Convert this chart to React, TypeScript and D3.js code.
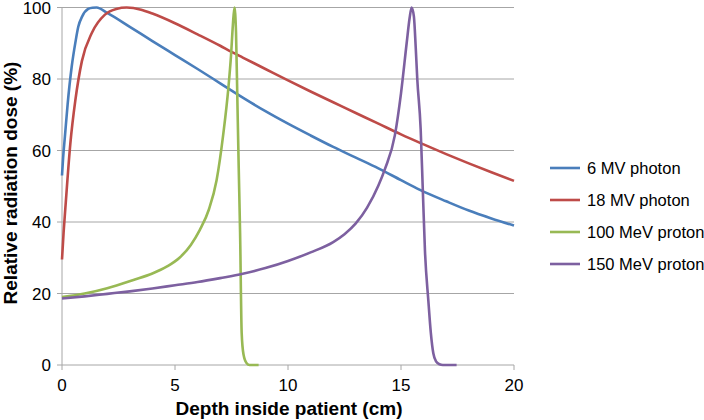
import React from "react";
import * as d3 from "d3";

const xTicks = [0, 5, 10, 15, 20];
const yTicks = [0, 20, 40, 60, 80, 100];

const seriesNames = ["6 MV photon", "18 MV photon", "100 MeV proton", "150 MeV proton"];
const seriesColors = ["#4A7EBB", "#BE4B48", "#98B954", "#7D60A0"];

const mv6Depth = [0, 0.05, 0.13, 0.25, 0.43, 0.6, 0.72, 0.9, 1.16, 1.35, 1.53, 2, 3, 4, 5, 6, 7, 8, 9, 10, 11, 12, 13, 14, 15, 15.84, 17, 18, 19, 20];
const mv6Dose = [53, 58, 64, 73, 83.5, 90.5, 94.6, 97.6, 99.6, 99.95, 100, 98.5, 94.6, 90.6, 86.7, 82.8, 78.8, 74.8, 71, 67.5, 64.2, 61, 58, 55, 51.7, 49, 45.8, 43.2, 41, 39];

const mv18Depth = [0, 0.07, 0.15, 0.37, 0.59, 0.88, 1.33, 1.9, 2.4, 2.86, 3.5, 4, 5, 6, 7, 7.5, 8, 9, 10, 11, 12, 13, 14, 15, 16, 17, 18, 19, 20];
const mv18Dose = [29.5, 37, 44, 62, 74, 85, 93, 98, 99.6, 100, 99.4, 98.3, 95.6, 92.5, 89.3, 87.6, 86, 82.8, 79.6, 76.5, 73.5, 70.5, 67.5, 64.5, 61.7, 59, 56.4, 53.9, 51.5];

const p100Depth = [0, 1, 2, 3.16, 4, 4.63, 5.2, 5.7, 6.1, 6.5, 6.84, 7.14, 7.36, 7.48, 7.56, 7.63, 7.7, 7.76, 7.82, 7.88, 7.95, 8.03, 8.17, 8.3, 8.7];
const p100Dose = [19, 20, 21.5, 23.8, 25.6, 27.5, 30, 33.6, 37.8, 43.5, 51.7, 64.8, 77.4, 86.7, 95, 100, 93, 74, 55, 37, 9, 3, 0.5, 0, 0];

const p150Depth = [0, 1, 2, 3, 4, 5, 6, 7, 8, 9, 10, 11, 12, 12.5, 13, 13.5, 14, 14.3, 14.73, 15, 15.25, 15.38, 15.47, 15.57, 15.65, 15.72, 15.87, 15.97, 16.06, 16.21, 16.32, 16.43, 16.55, 16.7, 16.85, 17.46];
const p150Dose = [18.6, 19.2, 19.9, 20.6, 21.4, 22.3, 23.2, 24.3, 25.5, 27.1, 29.1, 31.5, 34.4, 36.6, 39.6, 44, 50.2, 55, 64.3, 76, 90, 97, 100, 97.5, 89, 80, 66, 48, 32, 18, 9, 3.3, 1, 0.2, 0, 0];

const seriesDepths = [mv6Depth, mv18Depth, p100Depth, p150Depth];
const seriesDoses = [mv6Dose, mv18Dose, p100Dose, p150Dose];

export default function App() {
  const W = 704, H = 420;
  const x = d3.scaleLinear().domain([0, 20]).range([62, 514]);
  const y = d3.scaleLinear().domain([0, 100]).range([365, 7.5]);
  const line = d3
    .line<[number, number]>()
    .x((d) => x(d[0]))
    .y((d) => y(d[1]))
    .curve(d3.curveMonotoneX);
  const font = "'Liberation Sans', Arial, sans-serif";
  return (
    <svg width={W} height={H} style={{ position: "absolute", left: 0, top: 0 }} fontFamily={font}>
      <rect width={W} height={H} fill="#fff" />
      {yTicks.filter((t) => t > 0).map((t) => (
        <line key={t} x1={x(0)} x2={x(20)} y1={y(t)} y2={y(t)} stroke="#A6A6A6" strokeWidth={1} />
      ))}
      <line x1={x(0)} x2={x(0)} y1={y(100)} y2={y(0)} stroke="#A6A6A6" />
      <line x1={x(0)} x2={x(20)} y1={y(0)} y2={y(0)} stroke="#A6A6A6" />
      {yTicks.map((t) => (
        <g key={t}>
          <line x1={x(0) - 5} x2={x(0)} y1={y(t)} y2={y(t)} stroke="#A6A6A6" />
          <text x={51} y={y(t)} dy="0.36em" textAnchor="end" fontSize={17} fill="#000">
            {t}
          </text>
        </g>
      ))}
      {xTicks.map((t) => (
        <g key={t}>
          <line x1={x(t)} x2={x(t)} y1={y(0)} y2={y(0) + 5} stroke="#A6A6A6" />
          <text x={x(t)} y={y(0) + 26} textAnchor="middle" fontSize={17} fill="#000">
            {t}
          </text>
        </g>
      ))}
      {seriesNames.map((n, i) => {
        const pts = seriesDepths[i].map((d, j) => [d, seriesDoses[i][j]] as [number, number]);
        return (
          <path key={n} d={line(pts) || ""} fill="none" stroke={seriesColors[i]} strokeWidth={2.6} strokeLinejoin="round" />
        );
      })}
      <text x={289} y={415} textAnchor="middle" fontSize={19} fontWeight="bold" fill="#000">
        Depth inside patient (cm)
      </text>
      <text transform="translate(17,183) rotate(-90)" textAnchor="middle" fontSize={19} fontWeight="bold" fill="#000">
        Relative radiation dose (%)
      </text>
      {seriesNames.map((n, i) => (
        <g key={n} transform={`translate(550,${168 + i * 32})`}>
          <line x1={0} x2={30} y1={0} y2={0} stroke={seriesColors[i]} strokeWidth={2.6} />
          <text x={37} y={0} dy="0.36em" fontSize={16.5} fill="#000">
            {n}
          </text>
        </g>
      ))}
    </svg>
  );
}
